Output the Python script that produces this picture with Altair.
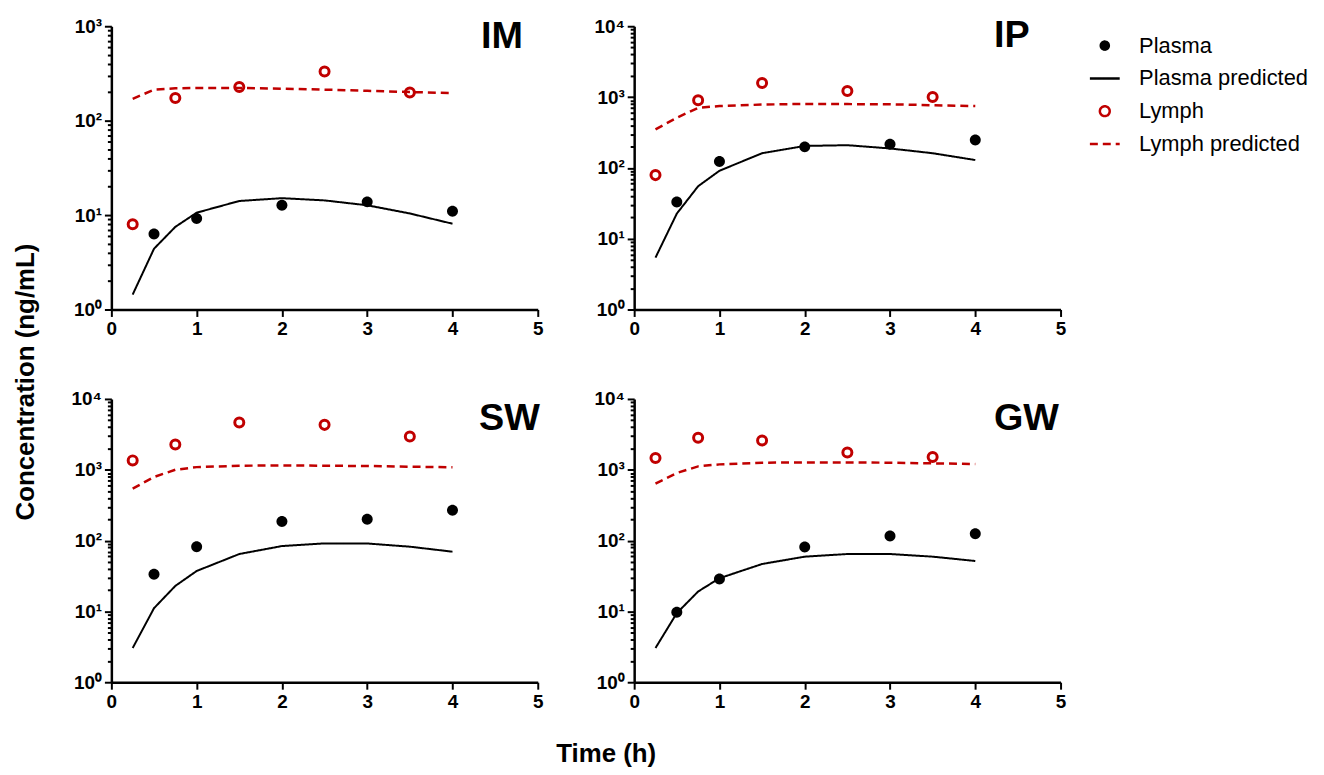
import altair as alt
import pandas as pd

FONT = "Liberation Sans"
RED = "#C00000"

# ---- data ----
t_obs_plasma = [0.5, 1, 2, 3, 4]
t_obs_lymph = [0.25, 0.75, 1.5, 2.5, 3.5]
t_pred = [0.25, 0.5, 0.75, 1, 1.5, 2, 2.5, 3, 3.5, 4]

IM_plasma = [6.3, 9.2, 12.7, 13.8, 11.0]
IM_lymph = [8.0, 174, 227, 331, 199]
IM_plasma_pred = [1.44, 4.4, 7.5, 10.6, 14.1, 15.1, 14.3, 12.7, 10.4, 8.1]
IM_lymph_pred = [170, 213, 220, 222, 222, 218, 213, 207, 201, 196]

IP_plasma = [32.9, 123, 198, 216, 248]
IP_lymph = [79, 901, 1575, 1217, 1000]
IP_plasma_pred = [5.4, 22.6, 55, 91, 161, 204, 209, 188, 161, 129]
IP_lymph_pred = [350, 510, 705, 745, 783, 800, 795, 790, 767, 745]

SW_plasma = [33.4, 82, 186, 200, 268]
SW_lymph = [1356, 2277, 4645, 4306, 2952]
SW_plasma_pred = [3.04, 11.1, 22.9, 37.2, 64.6, 83.7, 91.3, 91, 82, 69.7]
SW_lymph_pred = [542, 791, 1000, 1090, 1140, 1153, 1140, 1130, 1105, 1085]

GW_plasma = [9.7, 28.7, 81, 116, 125]
GW_lymph = [1463, 2827, 2594, 1758, 1513]
GW_plasma_pred = [3.04, 9.45, 19.1, 29.4, 46.7, 59.3, 64.6, 64.6, 59.3, 51.5]
GW_lymph_pred = [637, 900, 1117, 1192, 1258, 1271, 1271, 1258, 1232, 1205]

panels = ["IM", "IP", "SW", "GW"]
panel_ymax = {"IM": 1000, "IP": 10000, "SW": 10000, "GW": 10000}
series = ["Plasma", "Plasma predicted", "Lymph", "Lymph predicted"]
series_colors = ["black", "black", RED, RED]
series_fills = ["black", "transparent", "transparent", "transparent"]
series_dashes = [[1, 0], [1, 0], [1, 0], [8, 5]]
x_ticks = [0, 1, 2, 3, 4, 5]

# placement of the panel tags (pixels inside each plot area)
tag_pos = {"IM": (372, 22), "IP": (362, 21), "SW": (370, 31), "GW": (362, 31)}

panel_data = {
    "IM": (IM_plasma, IM_plasma_pred, IM_lymph, IM_lymph_pred),
    "IP": (IP_plasma, IP_plasma_pred, IP_lymph, IP_lymph_pred),
    "SW": (SW_plasma, SW_plasma_pred, SW_lymph, SW_lymph_pred),
    "GW": (GW_plasma, GW_plasma_pred, GW_lymph, GW_lymph_pred),
}

rows = []
for p in panels:
    pl, plp, ly, lyp = panel_data[p]
    for t, v in zip(t_obs_plasma, pl):
        rows.append({"panel": p, "series": "Plasma", "t": t, "c": v})
    for t, v in zip(t_pred, plp):
        rows.append({"panel": p, "series": "Plasma predicted", "t": t, "c": v})
    for t, v in zip(t_obs_lymph, ly):
        rows.append({"panel": p, "series": "Lymph", "t": t, "c": v})
    for t, v in zip(t_pred, lyp):
        rows.append({"panel": p, "series": "Lymph predicted", "t": t, "c": v})
df = pd.DataFrame(rows)


def circle_path(r):
    return f"M{-r},0A{r},{r} 0 1,0 {r},0A{r},{r} 0 1,0 {-r},0Z"


series_shapes = [circle_path(0.27), "stroke", circle_path(0.33), "stroke"]

legend = alt.Legend(title=None, orient="right", symbolSize=900, symbolStrokeWidth=2.5,
                    labelFontSize=22, labelFont=FONT, labelColor="black", labelOffset=18,
                    labelLimit=400, rowPadding=5, offset=19, padding=3, symbolOpacity=1)

color = alt.Color("series:N", scale=alt.Scale(domain=series, range=series_colors), legend=legend)
fill = alt.Fill("series:N", scale=alt.Scale(domain=series, range=series_fills), legend=legend)
shape = alt.Shape("series:N", scale=alt.Scale(domain=series, range=series_shapes), legend=legend)
dash = alt.StrokeDash("series:N", scale=alt.Scale(domain=series, range=series_dashes), legend=legend)

label_expr = ("datum.value == 1 ? '10⁰' : datum.value == 10 ? '10¹' : datum.value == 100 ? '10²' : "
              "datum.value == 1000 ? '10³' : datum.value == 10000 ? '10⁴' : ''")


def panel(name):
    ymax = panel_ymax[name]
    ndec = len(str(ymax)) - 1
    y_ticks = [m * 10 ** k for k in range(ndec) for m in range(1, 10)] + [ymax]
    x = alt.X("t:Q", scale=alt.Scale(domain=[0, 5], nice=False), title=None,
              axis=alt.Axis(values=x_ticks, tickSize=7, labelFlush=False, labelPadding=3,
                            format="d"))
    y = alt.Y("c:Q", scale=alt.Scale(type="log", domain=[1, ymax], nice=False), title=None,
              axis=alt.Axis(values=y_ticks, labelExpr=label_expr, labelOverlap=False,
                            tickSize=alt.condition("indexof([1,10,100,1000,10000], datum.value) >= 0",
                                                   alt.value(7), alt.value(4)),
                            labelPadding=3))
    base = alt.Chart(df).transform_filter(alt.datum.panel == name)
    lymph_line = base.transform_filter(alt.datum.series == "Lymph predicted").mark_line(
        strokeWidth=2.5).encode(x=x, y=y, color=color, strokeDash=dash)
    plasma_line = base.transform_filter(alt.datum.series == "Plasma predicted").mark_line(
        strokeWidth=2).encode(x=x, y=y, color=color, strokeDash=dash)
    lymph_pts = base.transform_filter(alt.datum.series == "Lymph").mark_point(
        filled=False, strokeWidth=3, size=760, opacity=1).encode(
        x=x, y=y, color=color, fill=fill, shape=shape)
    plasma_pts = base.transform_filter(alt.datum.series == "Plasma").mark_point(
        filled=False, strokeWidth=0, size=1660, opacity=1).encode(
        x=x, y=y, color=color, fill=fill, shape=shape)
    tx, ty = tag_pos[name]
    tag = alt.Chart(pd.DataFrame({"label": [name]})).mark_text(
        font=FONT, fontSize=38, fontWeight="bold", align="left", baseline="alphabetic",
        color="black").encode(text="label:N", x=alt.value(tx), y=alt.value(ty))
    return alt.layer(lymph_line, plasma_line, lymph_pts, plasma_pts, tag).properties(
        width=429, height=285)


grid = alt.vconcat(
    alt.hconcat(panel("IM"), panel("IP"), spacing=50),
    alt.hconcat(panel("SW"), panel("GW"), spacing=50),
    spacing=52,
).properties(title=alt.TitleParams("Time (h)", orient="bottom", anchor="middle", font=FONT,
                                   fontSize=26, fontWeight="bold", offset=30, dx=38, color="black"))

chart = alt.hconcat(grid).properties(
    padding={"left": 5, "top": 7, "right": 5, "bottom": 5},
    title=alt.TitleParams("Concentration (ng/mL)", orient="left", anchor="middle", font=FONT,
                          fontSize=26, fontWeight="bold", offset=32, dx=10, color="black")
).configure(font=FONT).configure_view(stroke=None).configure_axis(
    grid=False, domainColor="black", domainWidth=2.5, tickColor="black", tickWidth=2,
    labelFont=FONT, labelFontSize=19, labelFontWeight="bold", labelColor="black"
)

chart.save("out.html", embed_options={"renderer": "svg", "actions": False})
